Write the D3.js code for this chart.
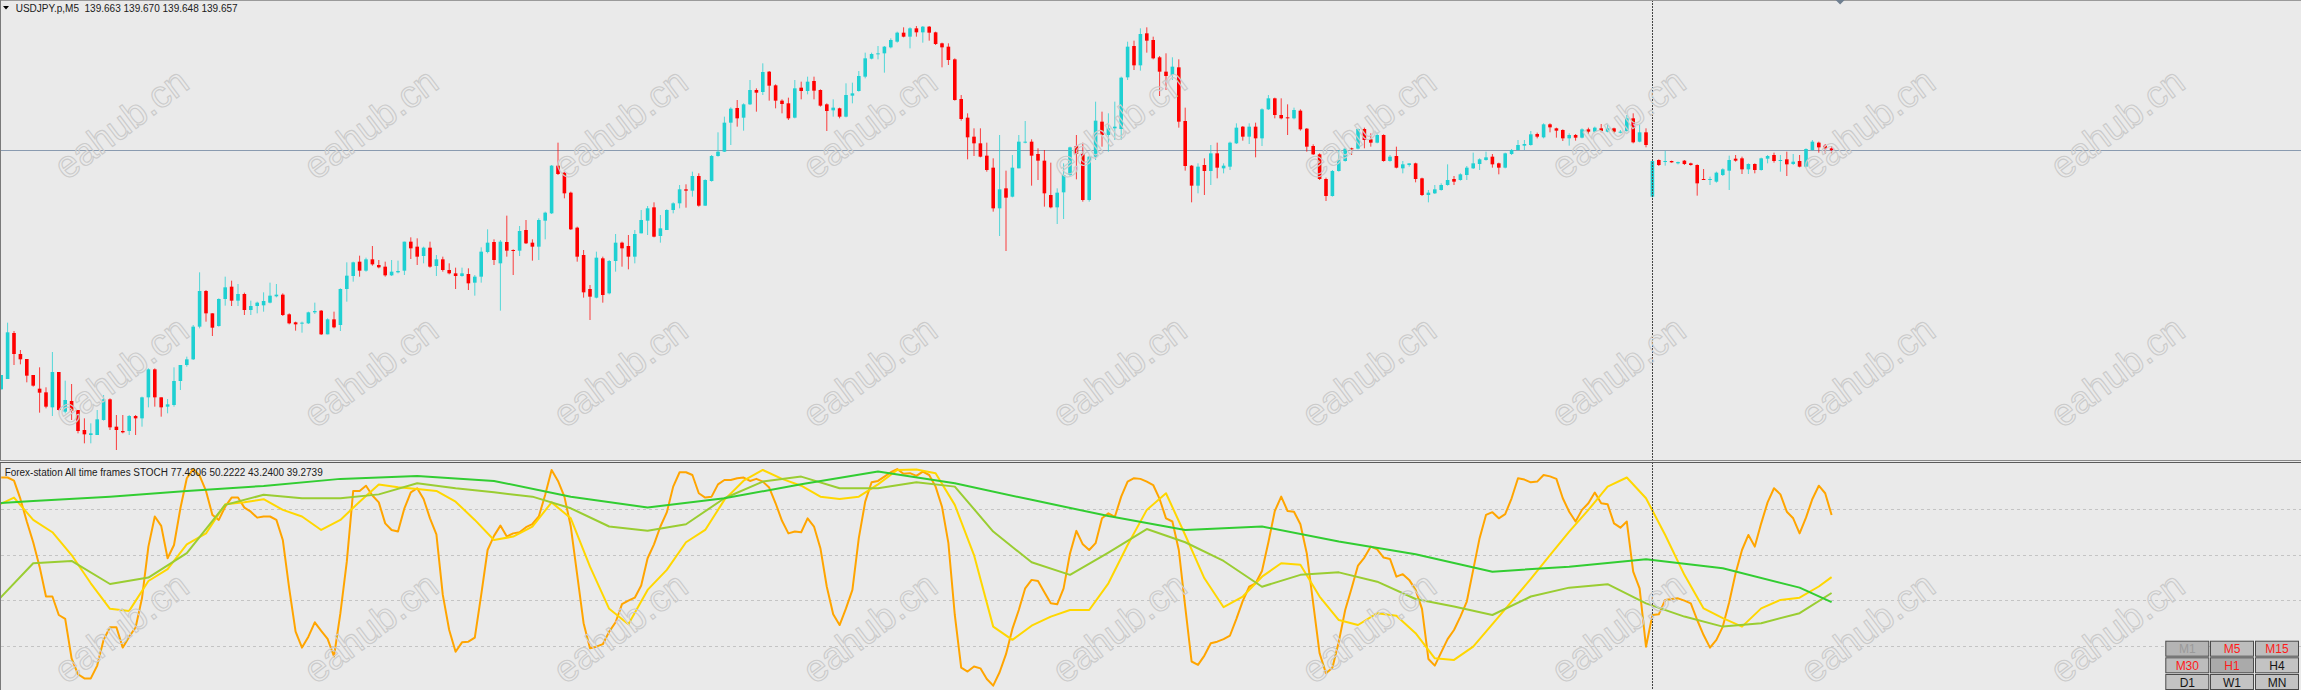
<!DOCTYPE html>
<html><head><meta charset="utf-8">
<script src="https://cdn.jsdelivr.net/npm/d3@7"></script>
<style>html,body{margin:0;padding:0;background:#eaeaea;overflow:hidden}svg{display:block}</style>
</head><body>
<script>
// ---------- DATA ----------
const symbol = "USDJPY.p,M5";
const indicatorName = "Forex-station All time frames STOCH";
const open = [138.940,138.971,139.109,139.046,139.031,138.983,138.942,138.931,138.886,138.992,
138.873,138.905,138.878,138.818,138.803,138.803,138.848,138.910,138.828,138.815,
138.815,138.860,138.853,138.916,139.000,138.916,138.888,138.893,138.965,139.013,
139.030,139.128,139.235,139.168,139.130,139.211,139.248,139.206,139.226,139.178,
139.190,139.192,139.200,139.219,139.224,139.165,139.141,139.138,139.138,139.171,
139.176,139.105,139.150,139.133,139.241,139.280,139.323,139.296,139.330,139.313,
139.308,139.282,139.291,139.296,139.383,139.368,139.340,139.365,139.310,139.330,
139.298,139.288,139.280,139.286,139.260,139.278,139.352,139.382,139.318,139.382,
139.358,139.356,139.418,139.380,139.368,139.446,139.468,139.611,139.590,139.530,
139.425,139.343,139.241,139.215,139.333,139.228,139.325,139.380,139.370,139.338,
139.408,139.446,139.486,139.400,139.418,139.478,139.498,139.540,139.536,139.580,
139.491,139.565,139.640,139.653,139.740,139.784,139.755,139.795,139.838,139.832,
139.893,139.852,139.806,139.798,139.755,139.845,139.835,139.865,139.838,139.795,
139.777,139.783,139.758,139.821,139.835,139.878,139.932,139.946,139.948,139.966,
139.983,140.010,139.998,140.023,140.011,140.028,140.011,139.978,139.968,139.930,
139.811,139.755,139.698,139.678,139.641,139.605,139.483,139.543,139.518,139.603,
139.680,139.683,139.646,139.626,139.523,139.486,139.531,139.583,139.670,139.646,
139.508,139.638,139.743,139.703,139.723,139.721,139.876,139.970,139.912,140.008,
139.988,139.936,139.893,139.883,139.906,139.745,139.611,139.551,139.613,139.595,
139.648,139.603,139.608,139.678,139.728,139.698,139.728,139.693,139.780,139.813,
139.763,139.756,139.753,139.776,139.722,139.670,139.645,139.571,139.520,139.595,
139.625,139.663,139.662,139.721,139.690,139.680,139.703,139.625,139.640,139.603,
139.613,139.618,139.573,139.523,139.528,139.538,139.553,139.571,139.568,139.583,
139.603,139.616,139.628,139.638,139.618,139.605,139.646,139.658,139.671,139.673,
139.706,139.696,139.735,139.723,139.718,139.693,139.703,139.695,139.720,139.713,
139.723,139.713,139.723,139.711,139.715,139.753,139.683,139.711,139.518,139.628,
139.623,139.625,139.618,139.626,139.618,139.613,139.571,139.568,139.563,139.583,
139.596,139.632,139.633,139.600,139.616,139.598,139.632,139.643,139.626,139.630,
139.616,139.625,139.608,139.658,139.680,139.671,139.663];
const high = [138.983,139.140,139.115,139.058,139.031,138.983,139.006,138.946,139.052,138.992,
138.966,138.956,138.878,138.853,138.838,138.878,138.923,138.913,138.863,138.863,
138.863,138.863,138.918,139.003,139.003,138.916,138.911,139.006,139.013,139.038,
139.133,139.291,139.238,139.168,139.213,139.278,139.266,139.256,139.230,139.206,
139.203,139.231,139.260,139.256,139.228,139.168,139.143,139.143,139.173,139.200,
139.178,139.153,139.173,139.243,139.321,139.323,139.341,139.335,139.370,139.328,
139.323,139.328,139.326,139.383,139.396,139.393,139.368,139.383,139.343,139.338,
139.318,139.305,139.305,139.303,139.283,139.366,139.420,139.390,139.388,139.461,
139.360,139.430,139.448,139.390,139.453,139.473,139.613,139.680,139.593,139.533,
139.428,139.358,139.253,139.353,139.338,139.328,139.406,139.383,139.403,139.418,
139.478,139.490,139.501,139.463,139.480,139.501,139.553,139.555,139.593,139.588,
139.570,139.643,139.711,139.758,139.786,139.808,139.798,139.868,139.843,139.918,
139.895,139.855,139.810,139.815,139.868,139.863,139.878,139.878,139.840,139.798,
139.810,139.785,139.858,139.860,139.895,139.950,139.950,139.970,139.970,139.993,
140.013,140.026,140.026,140.030,140.030,140.030,140.013,139.980,139.978,139.933,
139.823,139.768,139.723,139.723,139.680,139.633,139.703,139.596,139.643,139.703,
139.745,139.690,139.663,139.658,139.620,139.543,139.618,139.668,139.703,139.680,
139.640,139.803,139.773,139.768,139.803,139.878,139.983,139.986,140.023,140.026,
139.998,139.940,139.948,139.936,139.930,139.785,139.613,139.618,139.633,139.673,
139.680,139.618,139.683,139.738,139.730,139.738,139.740,139.783,139.823,139.815,
139.813,139.795,139.785,139.780,139.724,139.675,139.648,139.575,139.598,139.658,
139.665,139.665,139.723,139.725,139.708,139.710,139.705,139.643,139.668,139.625,
139.618,139.620,139.575,139.538,139.553,139.558,139.615,139.580,139.588,139.610,
139.650,139.633,139.653,139.646,139.620,139.650,139.661,139.688,139.688,139.715,
139.710,139.738,139.738,139.725,139.720,139.708,139.706,139.723,139.725,139.728,
139.736,139.735,139.725,139.718,139.763,139.768,139.736,139.723,139.625,139.630,
139.656,139.626,139.623,139.628,139.620,139.615,139.601,139.578,139.593,139.603,
139.641,139.643,139.638,139.618,139.618,139.635,139.643,139.650,139.643,139.653,
139.646,139.643,139.663,139.688,139.683,139.676,139.670];
const low = [138.940,138.971,139.013,139.015,138.961,138.948,138.870,138.883,138.860,138.876,
138.868,138.848,138.808,138.778,138.778,138.803,138.846,138.818,138.758,138.808,
138.803,138.803,138.828,138.886,138.888,138.858,138.868,138.888,138.938,139.008,
139.028,139.123,139.143,139.100,139.128,139.191,139.190,139.190,139.163,139.163,
139.168,139.173,139.198,139.216,139.160,139.135,139.116,139.110,139.136,139.166,
139.103,139.105,139.123,139.115,139.203,139.263,139.278,139.293,139.311,139.303,
139.278,139.280,139.288,139.283,139.331,139.313,139.318,139.305,139.280,139.293,
139.285,139.241,139.278,139.238,139.221,139.260,139.348,139.313,139.176,139.338,
139.283,139.340,139.376,139.326,139.328,139.390,139.466,139.583,139.513,139.418,
139.323,139.215,139.148,139.213,139.200,139.225,139.293,139.308,139.300,139.318,
139.408,139.403,139.396,139.380,139.418,139.468,139.483,139.485,139.518,139.488,
139.490,139.563,139.638,139.652,139.673,139.728,139.716,139.793,139.773,139.823,
139.806,139.783,139.768,139.748,139.753,139.810,139.825,139.810,139.788,139.715,
139.758,139.753,139.756,139.798,139.833,139.873,139.930,139.930,139.890,139.963,
139.980,139.996,139.963,139.998,139.980,139.986,139.973,139.906,139.913,139.806,
139.746,139.630,139.640,139.636,139.593,139.473,139.400,139.355,139.516,139.603,
139.678,139.551,139.568,139.488,139.483,139.436,139.451,139.578,139.570,139.503,
139.503,139.628,139.668,139.653,139.688,139.688,139.868,139.898,139.896,139.950,
139.930,139.820,139.838,139.868,139.725,139.596,139.501,139.528,139.523,139.553,
139.573,139.588,139.598,139.676,139.686,139.676,139.636,139.670,139.778,139.753,
139.750,139.703,139.750,139.716,139.653,139.643,139.568,139.505,139.518,139.593,
139.623,139.643,139.660,139.663,139.668,139.678,139.623,139.623,139.603,139.588,
139.608,139.561,139.520,139.501,139.526,139.536,139.551,139.553,139.566,139.568,
139.601,139.598,139.626,139.605,139.585,139.603,139.643,139.656,139.658,139.671,
139.693,139.693,139.711,139.695,139.685,139.671,139.686,139.693,139.706,139.711,
139.711,139.711,139.708,139.708,139.713,139.678,139.681,139.666,139.516,139.610,
139.611,139.620,139.615,139.613,139.611,139.521,139.568,139.553,139.560,139.580,
139.538,139.623,139.586,139.586,139.588,139.596,139.618,139.620,139.593,139.580,
139.613,139.606,139.606,139.656,139.650,139.646,139.648];
const close = [138.983,139.111,139.046,139.030,138.981,138.951,138.930,138.888,138.992,138.878,
138.908,138.876,138.815,138.805,138.808,138.850,138.910,138.826,138.818,138.811,
138.860,138.853,138.916,139.000,138.916,138.886,138.895,138.965,139.013,139.030,
139.128,139.235,139.168,139.125,139.211,139.246,139.206,139.226,139.178,139.190,
139.200,139.205,139.221,139.224,139.163,139.138,139.135,139.140,139.171,139.175,
139.105,139.150,139.126,139.241,139.281,139.321,139.296,139.330,139.315,139.306,
139.282,139.293,139.295,139.383,139.363,139.338,139.365,139.308,139.330,139.298,
139.288,139.280,139.288,139.258,139.278,139.353,139.380,139.328,139.383,139.356,
139.356,139.415,139.378,139.368,139.448,139.470,139.611,139.586,139.528,139.420,
139.338,139.231,139.218,139.335,139.223,139.325,139.380,139.363,139.338,139.406,
139.448,139.483,139.398,139.423,139.478,139.498,139.540,139.536,139.580,139.491,
139.568,139.640,139.653,139.740,139.782,139.753,139.795,139.838,139.830,139.892,
139.851,139.806,139.796,139.753,139.843,139.835,139.863,139.836,139.791,139.775,
139.785,139.758,139.823,139.828,139.880,139.933,139.946,139.948,139.968,139.988,
140.010,139.998,140.023,140.011,140.028,140.010,139.976,139.966,139.928,139.808,
139.751,139.696,139.678,139.638,139.598,139.483,139.540,139.515,139.605,139.683,
139.683,139.641,139.626,139.528,139.486,139.530,139.583,139.666,139.646,139.508,
139.638,139.746,139.703,139.723,139.728,139.875,139.968,139.912,140.006,139.986,
139.933,139.893,139.880,139.908,139.743,139.610,139.551,139.608,139.595,139.648,
139.605,139.611,139.680,139.725,139.698,139.728,139.693,139.780,139.813,139.763,
139.753,139.753,139.778,139.720,139.668,139.645,139.571,139.520,139.595,139.628,
139.662,139.660,139.721,139.688,139.680,139.703,139.625,139.638,139.605,139.615,
139.618,139.571,139.523,139.530,139.540,139.553,139.568,139.563,139.585,139.605,
139.618,139.630,139.636,139.615,139.605,139.648,139.658,139.673,139.676,139.705,
139.698,139.735,139.726,139.716,139.693,139.703,139.695,139.720,139.713,139.725,
139.715,139.723,139.713,139.713,139.753,139.681,139.711,139.673,139.625,139.613,
139.625,139.621,139.622,139.616,139.613,139.558,139.568,139.571,139.590,139.600,
139.628,139.626,139.600,139.616,139.598,139.633,139.640,139.625,139.628,139.615,
139.623,139.608,139.661,139.683,139.666,139.663,139.657];
const bidPrice = 139.657;
const markerBar = 258;

// Stochastic per time frame (M5 every bar, higher frames at their bar boundaries)
const stochM5 = [93.9,93.9,92.5,84.5,74.6,65.5,54.8,41.7,41.7,33.6,
31.9,14.6,7.6,5.8,5.8,11.4,22.7,28.2,28.2,19.3,
24.1,28.1,41.0,63.6,76.8,72.7,58.5,64.3,80.4,93.6,
97.7,94.7,88.0,77.5,75.3,81.1,85.1,85.1,80.7,78.9,
76.3,76.8,76.8,75.3,66.5,45.3,26.3,19.3,24.1,30.4,
26.6,23.1,15.4,34.4,57.0,88.0,88.0,90.3,86.0,83.0,
73.8,70.9,70.2,80.4,87.4,89.2,84.5,76.0,69.0,42.4,
27.0,17.5,21.6,21.9,23.7,42.4,62.1,68.3,72.8,68.0,
69.4,69.9,72.1,73.5,76.8,86.3,97.2,92.4,85.5,72.4,
51.2,30.0,19.0,19.7,20.8,26.3,30.4,38.4,39.9,41.2,
46.5,58.5,64.6,72.4,78.6,89.9,96.2,96.2,95.0,87.0,
85.1,85.5,90.9,92.8,92.8,93.6,93.9,92.4,93.3,92.1,
89.5,82.6,74.9,69.4,70.2,69.9,76.0,72.4,62.9,46.0,
33.9,29.2,36.5,44.6,67.3,83.3,91.8,92.4,94.3,96.2,
97.6,95.5,95.8,94.6,96.5,95.0,89.9,81.1,65.1,33.6,
10.5,8.8,11.0,10.2,5.5,2.6,8.5,16.4,27.5,35.8,
45.3,49.0,48.5,43.6,38.7,38.3,45.3,60.6,70.5,64.6,
62.1,65.1,76.0,78.2,76.6,85.5,92.1,93.6,93.3,92.1,
90.6,84.5,76.0,74.6,62.1,37.3,13.2,11.7,15.8,21.2,
21.9,23.0,24.6,31.9,39.8,46.0,47.5,52.9,65.5,79.2,
85.5,79.2,78.9,73.4,60.6,38.7,16.8,8.0,10.5,21.9,
35.8,45.3,55.3,58.8,63.6,62.4,58.8,58.2,50.4,51.5,
49.0,44.6,36.3,14.3,11.4,17.2,23.0,27.0,32.9,39.5,
53.4,67.3,77.5,78.7,76.0,77.8,84.8,93.6,93.0,91.8,
92.1,95.0,94.4,93.3,84.8,78.9,74.6,79.7,82.6,87.3,
82.6,82.2,73.8,71.9,74.6,52.6,45.3,19.7,33.6,33.9,
40.2,40.6,40.9,39.9,38.7,31.4,24.8,19.3,22.7,28.5,
39.2,51.9,62.1,68.7,63.6,73.8,83.0,89.2,86.5,78.9,
76.0,69.4,76.3,84.5,90.3,87.0,77.4306];
const m15Bars = d3.range(-1, 285, 3).concat([286]);
const stochM15 = [81.1,85.1,75.3,69.9,59.9,47.5,36.3,35.4,48.5,53.7,
64.6,69.4,82.2,83.0,84.4,79.7,76.8,70.9,75.3,83.3,
90.8,89.6,88.9,88.0,83.3,75.3,66.5,68.0,72.4,83.0,
76.0,54.8,36.3,29.5,44.6,53.4,65.5,70.9,84.1,92.5,
97.2,93.3,90.3,85.5,84.5,85.5,90.9,97.2,97.4,95.8,
81.9,59.9,28.5,22.7,28.9,32.9,35.8,35.8,47.5,64.3,
79.7,87.0,68.7,49.7,37.0,41.7,50.4,56.3,55.6,41.7,
31.4,29.2,34.4,33.3,25.6,14.6,13.9,19.7,29.6,39.5,
49.4,59.9,70.2,79.7,89.9,93.9,84.8,68.7,51.2,36.5,
32.2,28.5,36.5,40.2,41.2,46.1,50.2222];
const m30Bars = d3.range(-1, 282, 6).concat([286]);
const stochM30 = [38.6,56.3,57.3,47.2,50.0,60.7,81.9,86.3,84.8,84.8,
86.5,91.4,89.2,87.4,85.5,80.4,72.4,70.5,73.4,84.8,
92.1,94.3,89.2,89.2,91.8,89.9,70.2,56.7,51.2,61.0,
71.3,65.5,57.3,46.0,51.2,52.3,48.2,40.6,37.3,33.6,
41.7,45.6,47.1,38.7,32.9,28.5,30.0,34.4,43.2400];
const h1Bars = d3.range(-7, 282, 12).concat([286]);
const stochH1 = [81.4,83.6,85.5,88.0,90.2,93.3,94.6,92.4,85.5,80.7,
84.8,90.9,96.5,91.4,84.1,77.0,70.9,72.4,65.8,60.2,
52.6,54.8,58.0,54.1,45.6,39.2739];
const stochLevels = [20, 40, 60, 80];
const tfLabels = [["M1","M5","M15"],["M30","H1","H4"],["D1","W1","MN"]];
const tfState = [["off","on","on"],["on","sel","norm"],["norm","norm","norm"]];
const watermark = "eahub.cn";

// ---------- DRAW ----------
const W = 2301, H = 690;
const svg = d3.select("body").append("svg").attr("width", W).attr("height", H)
  .style("font-family", "'Liberation Sans', Arial, sans-serif");
svg.append("rect").attr("width", W).attr("height", H).attr("fill", "#eaeaea");

const mainTop = 0, mainBot = 460, subTop = 463, subBot = 690;
const xS = d3.scaleLinear().domain([0, 286]).range([1.2, 1831.6]);
const yP = d3.scaleLinear().domain([138.728, 140.108]).range([mainBot, mainTop]);
const yS = d3.scaleLinear().domain([0, 100]).range([691.6, 463.6]);

const defs = svg.append("defs");
defs.append("clipPath").attr("id","cm").append("rect").attr("x",1).attr("y",1).attr("width",W).attr("height",mainBot-1);
defs.append("clipPath").attr("id","cs").append("rect").attr("x",1).attr("y",subTop+1).attr("width",W).attr("height",subBot-subTop);

// bid line
svg.append("line").attr("x1",1).attr("x2",W).attr("y1",Math.round(yP(bidPrice))+0.5).attr("y2",Math.round(yP(bidPrice))+0.5)
  .attr("stroke","#8a9bb0").attr("stroke-width",1);

// candles
const bull = "#1fd0d2", bear = "#ff0000";
const cg = svg.append("g").attr("clip-path","url(#cm)");
const idx = d3.range(open.length);
cg.selectAll("line.w").data(idx).join("line")
  .attr("x1", i => xS(i)).attr("x2", i => xS(i))
  .attr("y1", i => yP(high[i])).attr("y2", i => yP(low[i]))
  .attr("stroke", i => close[i] >= open[i] ? bull : bear).attr("stroke-width", 1).attr("stroke-opacity",0.75);
cg.selectAll("rect.b").data(idx).join("rect")
  .attr("x", i => xS(i) - 1.8).attr("width", 3.6)
  .attr("y", i => yP(Math.max(open[i], close[i])))
  .attr("height", i => Math.max(1, yP(Math.min(open[i], close[i])) - yP(Math.max(open[i], close[i]))))
  .attr("fill", i => close[i] >= open[i] ? bull : bear);

// stochastic levels
const sg = svg.append("g");
sg.selectAll("line.lv").data(stochLevels).join("line")
  .attr("x1",1).attr("x2",W).attr("y1", d => Math.round(yS(d))+0.5).attr("y2", d => Math.round(yS(d))+0.5)
  .attr("stroke","#c4c4c4").attr("stroke-dasharray","3,3");

const lg = svg.append("g").attr("clip-path","url(#cs)");
const series = [
  {bars: idx, vals: stochM5, color: "#ffa500", w: 2},
  {bars: m15Bars, vals: stochM15, color: "#ffd700", w: 2},
  {bars: m30Bars, vals: stochM30, color: "#9acd32", w: 2},
  {bars: h1Bars, vals: stochH1, color: "#32cd32", w: 2}
];
const line = d3.line().x(d => xS(d[0])).y(d => yS(d[1]));
series.forEach(s => {
  lg.append("path").attr("d", line(s.bars.map((b, k) => [b, s.vals[k]])))
    .attr("fill","none").attr("stroke", s.color).attr("stroke-width", s.w).attr("stroke-linejoin","round");
});

// vertical marker line
svg.append("line").attr("x1", Math.round(xS(markerBar))+0.5).attr("x2", Math.round(xS(markerBar))+0.5)
  .attr("y1", 0).attr("y2", H).attr("stroke","#444").attr("stroke-dasharray","2,1");

// watermark
const wm = svg.append("g");
const cols = d3.range(9), rows = [126, 374, 630];
rows.forEach(ry => cols.forEach(c => {
  const cx = 123 + c * 249.5;
  wm.append("text").attr("x", cx).attr("y", ry).attr("text-anchor","middle").attr("dominant-baseline","middle")
    .attr("transform", `rotate(-37 ${cx} ${ry})`).attr("font-size", 38)
    .attr("fill","none").attr("stroke","#cbcbcb").attr("stroke-width",1.1).text(watermark);
}));

// borders / separator
svg.append("line").attr("x1",0).attr("x2",W).attr("y1",0.5).attr("y2",0.5).attr("stroke","#9a9a9a");
svg.append("line").attr("x1",0.5).attr("x2",0.5).attr("y1",0).attr("y2",H).attr("stroke","#7a7a7a");
svg.append("rect").attr("x",0).attr("y",mainBot).attr("width",W).attr("height",subTop-mainBot).attr("fill","#eaeaea");
svg.append("line").attr("x1",0).attr("x2",W).attr("y1",mainBot+0.5).attr("y2",mainBot+0.5).attr("stroke","#8a8a8a");
svg.append("line").attr("x1",0).attr("x2",W).attr("y1",subTop-0.5).attr("y2",subTop-0.5).attr("stroke","#5a5a5a");

// chart-shift marker just right of the last bar
const shiftX = xS(open.length - 1) + 8.5;
svg.append("path").attr("d", `M${shiftX-4.5},0 L${shiftX+4.5},0 L${shiftX},4.5 Z`).attr("fill","#6f7f90");

// titles
const last = open.length - 1;
svg.append("path").attr("d","M3,6 L9,6 L6,9.5 Z").attr("fill","#000");
svg.append("text").attr("x",15.7).attr("y",11.5).attr("font-size",10).attr("fill","#202020")
  .attr("textLength",222).attr("lengthAdjust","spacingAndGlyphs").attr("xml:space","preserve")
  .text(`${symbol}  ${open[last].toFixed(3)} ${high[last].toFixed(3)} ${low[last].toFixed(3)} ${close[last].toFixed(3)}`);
svg.append("text").attr("x",4.7).attr("y",475.5).attr("font-size",10).attr("fill","#202020")
  .attr("textLength",318).attr("lengthAdjust","spacingAndGlyphs")
  .text(`${indicatorName} ${stochM5[stochM5.length-1].toFixed(4)} ${stochM15[stochM15.length-1].toFixed(4)} ${stochM30[stochM30.length-1].toFixed(4)} ${stochH1[stochH1.length-1].toFixed(4)}`);

// timeframe buttons
const colX = [2165.3, 2210, 2255], rowY = [640.7, 657.3, 674], cw = 44, ch = 16;
const bg = {off:"#b4b4b4", on:"#bdbdbd", sel:"#aaaaaa", norm:"#c3c3c3"};
const fg = {off:"#9a9a9a", on:"#ff1a1a", sel:"#ff1a1a", norm:"#151515"};
const tg = svg.append("g");
tfLabels.forEach((r, ri) => r.forEach((lab, ci) => {
  const st = tfState[ri][ci];
  tg.append("rect").attr("x", colX[ci]+0.5).attr("y", rowY[ri]+0.5).attr("width", cw-1).attr("height", ch-1)
    .attr("fill", bg[st]).attr("stroke","#4a4a4a");
  tg.append("text").attr("x", colX[ci]+cw/2).attr("y", rowY[ri]+12.5).attr("text-anchor","middle")
    .attr("font-size",12).attr("fill", fg[st]).text(lab);
}));
</script>
</body></html>
